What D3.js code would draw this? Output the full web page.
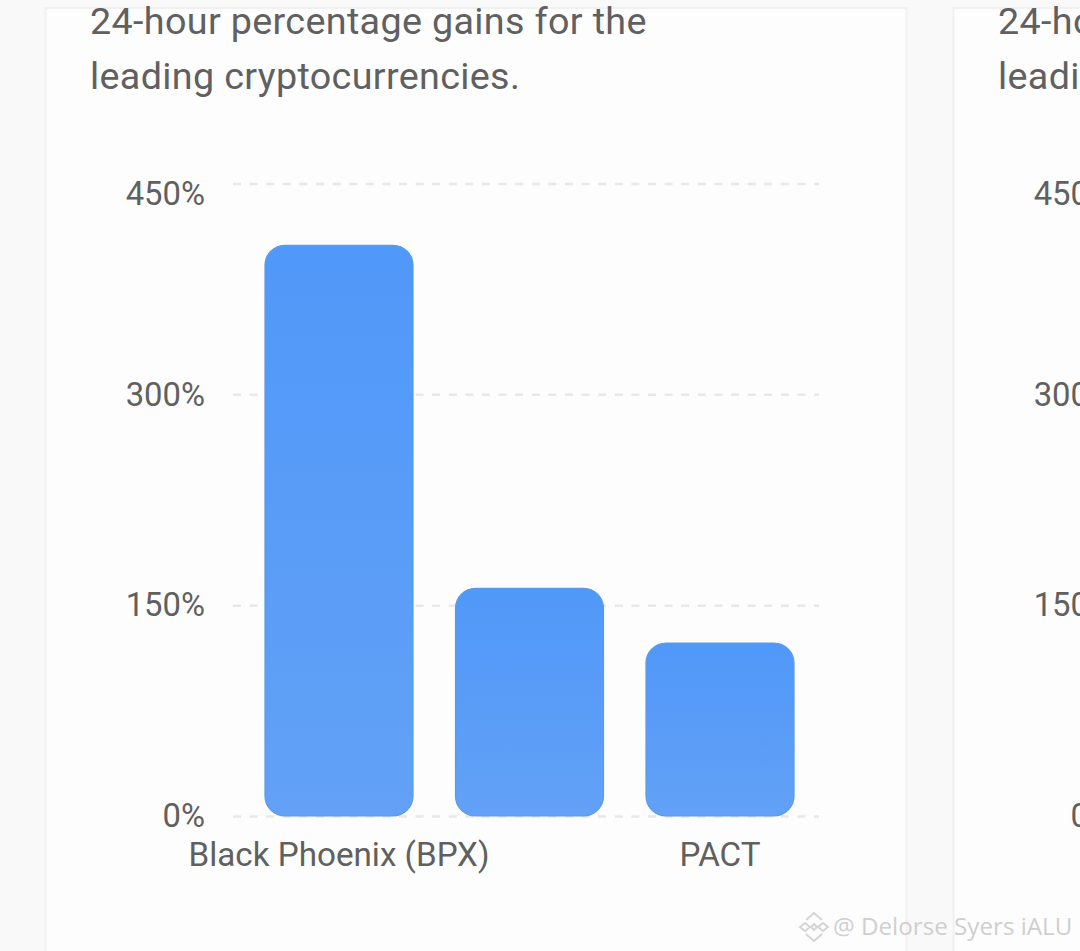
<!DOCTYPE html>
<html>
<head>
<meta charset="utf-8">
<style>
  html, body { margin: 0; padding: 0; background: #f9f9f9; overflow: hidden; }
  svg { display: block; }
  text { font-family: Roboto, sans-serif; fill: #606060; }
</style>
</head>
<body>
<div id="chart"></div>
<script src="https://cdn.jsdelivr.net/npm/d3@7"></script>
<script>

// chart data
var coins = ["Black Phoenix (BPX)", "", "PACT"];
var gains = [406, 162, 123];
var yTicks = [0, 150, 300, 450];
var titleLines = ["24-hour percentage gains for the", "leading cryptocurrencies."];
var watermark = "@ Delorse Syers iALU";

var width = 1080, height = 951;

var svg = d3.select("#chart")
  .append("svg")
    .attr("width", width)
    .attr("height", height);

// gradient for the bars, runs over each bar on its own
var grad = svg.append("defs")
  .append("linearGradient")
    .attr("id", "barFill")
    .attr("x1", 0).attr("x2", 0)
    .attr("y1", 0).attr("y2", 1);
grad.append("stop").attr("offset", "0%").attr("stop-color", "#5098f9");
grad.append("stop").attr("offset", "100%").attr("stop-color", "#62a1f6");

// scales
var y = d3.scaleLinear()
  .domain([0, 450])
  .range([816, 183.5]);

var x = d3.scaleBand()
  .domain(coins)
  .range([243.75, 815.25])
  .paddingInner(0.223)
  .paddingOuter(0.1115);

// one card: the second one starts off to the right and is cut by the window
function drawCard(offset) {
  var card = svg.append("g")
    .attr("transform", "translate(" + offset + ",0)");

  card.append("rect")
    .attr("x", 45.5)
    .attr("y", 8)
    .attr("width", 861)
    .attr("height", 960)
    .attr("fill", "#fdfdfd")
    .attr("stroke", "#f1f1f1")
    .attr("stroke-width", 2);

  card.selectAll(".title")
    .data(titleLines)
    .enter()
    .append("text")
      .attr("class", "title")
      .attr("x", 90)
      .attr("y", function(d, i) { return 34 + i * 55; })
      .style("font-size", "37.7px")
      .style("letter-spacing", "0.35px")
      .text(function(d) { return d; });

  // Y axis with dashed grid lines
  var yAxis = card.append("g")
    .attr("transform", "translate(233,0)")
    .call(d3.axisLeft(y)
      .tickValues(yTicks)
      .tickSize(-586)
      .tickPadding(28)
      .tickFormat(function(d) { return d + "%"; }));
  yAxis.select(".domain").remove();
  yAxis.selectAll("line")
    .attr("stroke", "#e8e8e8")
    .attr("stroke-width", 2.5)
    .attr("stroke-dasharray", "8 8.6");
  yAxis.selectAll("text")
    .style("font-size", "32.8px")
    .style("fill", "#606060")
    .style("font-family", "Roboto, sans-serif")
    .attr("dy", function(d) { return d === 450 ? "0.64em" : "0.33em"; });

  // bars
  card.selectAll(".bar")
    .data(gains)
    .enter()
    .append("rect")
      .attr("class", "bar")
      .attr("x", function(d, i) { return x(coins[i]); })
      .attr("y", function(d) { return y(d); })
      .attr("width", x.bandwidth())
      .attr("height", function(d) { return y(0) - y(d); })
      .attr("rx", 20)
      .attr("fill", "url(#barFill)")
      .attr("stroke", "#5a9ae6")
      .attr("stroke-width", 1.2);

  // X axis, the middle label is left out in the picture
  var xAxis = card.append("g")
    .attr("transform", "translate(0,816)")
    .call(d3.axisBottom(x).tickSize(0).tickPadding(26));
  xAxis.select(".domain").remove();
  xAxis.selectAll("text")
    .style("font-size", "33.2px")
    .style("fill", "#606060")
    .style("font-family", "Roboto, sans-serif");
}

drawCard(0);
drawCard(908);

// watermark bottom right
var mark = svg.append("g")
  .attr("transform", "translate(814,927)")
  .attr("fill", "none")
  .attr("stroke", "#d4d4d4")
  .attr("stroke-width", 2);
mark.append("path").attr("d", "M-8,-7 L0,-14 L8,-7");
mark.append("path").attr("d", "M-14,0 L-9,-4 L-4,0 L-9,4 Z");
mark.append("path").attr("d", "M4,0 L9,-4 L14,0 L9,4 Z");
mark.append("path").attr("d", "M-3,0 L0,-3 L3,0 L0,3 Z");
mark.append("path").attr("d", "M-8,7 L0,14 L8,7");

svg.append("text")
  .attr("x", 833)
  .attr("y", 935)
  .style("font-family", "'Open Sans', sans-serif")
  .style("font-size", "24.2px")
  .style("fill", "#cfcfcf")
  .text(watermark);

</script>
</body>
</html>
